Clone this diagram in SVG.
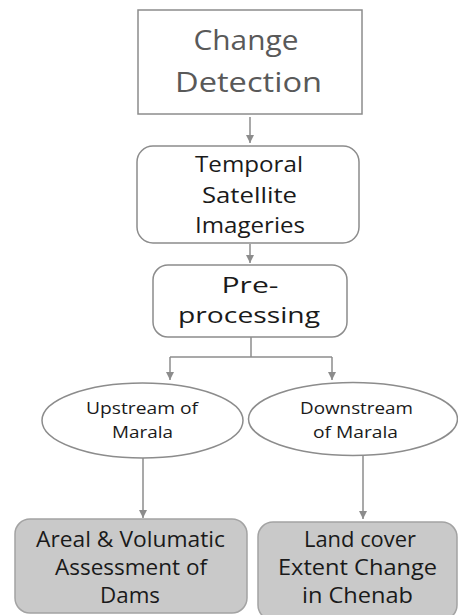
<svg xmlns="http://www.w3.org/2000/svg" width="458" height="615" viewBox="0 0 458 615">
<defs>
<style>
.box{fill:#fff;stroke:#8c8c8c;stroke-width:1.5}
.out{fill:#c9c9c9;stroke:#a3a3a3;stroke-width:1.5}
.con{fill:none;stroke:#8c8c8c;stroke-width:1.5}
text{font-family:"Open Sans","Noto Sans",sans-serif;text-anchor:middle;fill:#1a1a1a}
.t1{font-size:27px;fill:#595959}
.t2{font-size:22px}
.t3{font-size:22px}
.t4{font-size:15.5px}
.t5{font-size:21px}
</style>
<marker id="ah" viewBox="0 0 10 10" refX="10" refY="5" markerWidth="8" markerHeight="8" markerUnits="userSpaceOnUse" orient="auto">
<path d="M0,0 L10,5 L0,10 Z" fill="#8c8c8c"/>
</marker>
</defs>
<rect width="458" height="615" fill="#fff"/>
<g id="connectors">
<line class="con" x1="250" y1="117" x2="250" y2="143" marker-end="url(#ah)"/>
<line class="con" x1="250" y1="244" x2="250" y2="263" marker-end="url(#ah)"/>
<polyline class="con" points="251,337 251,357"/>
<polyline class="con" points="170,357 332,357"/>
<line class="con" x1="170" y1="357" x2="170" y2="380" marker-end="url(#ah)"/>
<line class="con" x1="332" y1="357" x2="332" y2="380" marker-end="url(#ah)"/>
<line class="con" x1="143" y1="458" x2="143" y2="518" marker-end="url(#ah)"/>
<line class="con" x1="363" y1="455" x2="363" y2="519" marker-end="url(#ah)"/>
</g>
<g id="change-detection">
<rect class="box" x="138" y="10" width="224" height="104"/>
<text class="t1" x="246" y="50" textLength="105" lengthAdjust="spacingAndGlyphs">Change</text>
<text class="t1" x="248.5" y="92" textLength="147" lengthAdjust="spacingAndGlyphs">Detection</text>
</g>
<g id="temporal">
<rect class="box" x="137" y="146" width="222" height="97" rx="16"/>
<text class="t2" x="249" y="172" textLength="108" lengthAdjust="spacingAndGlyphs">Temporal</text>
<text class="t2" x="249.5" y="203" textLength="95" lengthAdjust="spacingAndGlyphs">Satellite</text>
<text class="t2" x="250" y="233" textLength="110" lengthAdjust="spacingAndGlyphs">Imageries</text>
</g>
<g id="preprocessing">
<rect class="box" x="153" y="265" width="194" height="72" rx="15"/>
<text class="t3" x="250" y="293" textLength="57" lengthAdjust="spacingAndGlyphs">Pre-</text>
<text class="t3" x="249" y="323" textLength="142" lengthAdjust="spacingAndGlyphs">processing</text>
</g>
<g id="upstream">
<ellipse class="box" cx="142.5" cy="420.5" rx="100.5" ry="37.5"/>
<text class="t4" x="142" y="414" textLength="112" lengthAdjust="spacingAndGlyphs">Upstream of</text>
<text class="t4" x="142.5" y="438" textLength="61" lengthAdjust="spacingAndGlyphs">Marala</text>
</g>
<g id="downstream">
<ellipse class="box" cx="353" cy="419" rx="104.5" ry="36.5"/>
<text class="t4" x="356.5" y="414" textLength="113" lengthAdjust="spacingAndGlyphs">Downstream</text>
<text class="t4" x="355.5" y="438" textLength="85" lengthAdjust="spacingAndGlyphs">of Marala</text>
</g>
<g id="areal">
<rect class="out" x="15" y="519" width="232" height="94" rx="15"/>
<text class="t5" x="130.5" y="547" textLength="189" lengthAdjust="spacingAndGlyphs">Areal &amp; Volumatic</text>
<text class="t5" x="131" y="575" textLength="152" lengthAdjust="spacingAndGlyphs">Assessment of</text>
<text class="t5" x="130" y="603" textLength="60" lengthAdjust="spacingAndGlyphs">Dams</text>
</g>
<g id="landcover">
<rect class="out" x="258" y="522" width="199" height="98" rx="15"/>
<text class="t5" x="360" y="547" textLength="112" lengthAdjust="spacingAndGlyphs">Land cover</text>
<text class="t5" x="357.5" y="575" textLength="159" lengthAdjust="spacingAndGlyphs">Extent Change</text>
<text class="t5" x="357.5" y="603" textLength="111" lengthAdjust="spacingAndGlyphs">in Chenab</text>
</g>
</svg>
